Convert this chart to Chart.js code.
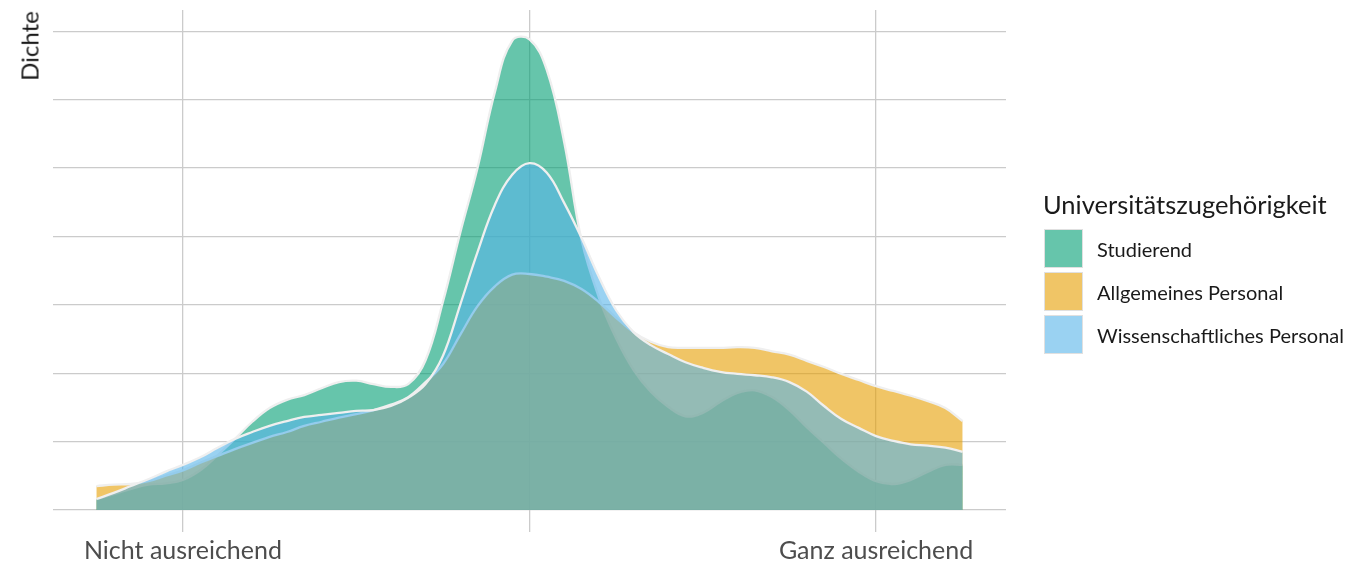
<!DOCTYPE html>
<html>
<head>
<meta charset="utf-8">
<script src="https://cdn.jsdelivr.net/npm/chart.js@4.4.1/dist/chart.umd.min.js"></script>
<style>
  html, body { margin: 0; padding: 0; background: #ffffff; }
  #wrap { position: relative; width: 1347px; height: 564px; font-family: Lato, "Open Sans", sans-serif; }
  #chart { position: absolute; left: 0; top: 0; }
  #ytitle { position: absolute; left: 29px; top: 46px; transform: translate(-50%, -50%) rotate(-90deg); font-size: 24px; color: #1a1a1a; white-space: nowrap; }
  #legend { position: absolute; left: 1043px; top: 185px; color: #1a1a1a; }
  #legend .title { font-size: 25.5px; line-height: 38px; height: 42px; white-space: nowrap; }
  #legend .item { display: flex; align-items: center; height: 43px; }
  #legend .key { width: 37px; height: 37px; border: 1.5px solid #e0e0e0; margin-left: 1px; margin-right: 14px; box-sizing: content-box; }
  #legend .lab { font-size: 20px; white-space: nowrap; }
</style>
</head>
<body>
<div id="wrap">
  <canvas id="chart" width="1347" height="564"></canvas>
  <div id="ytitle">Dichte</div>
  <div id="legend"></div>
</div>
<script>
// ---- data ----
const xValues = [0.5,0.6,0.7,0.8,0.9,1.0,1.1,1.2,1.3,1.4,1.5,1.6,1.7,1.8,1.9,2.0,2.1,2.2,2.3,2.4,2.5,2.6,2.7,2.8,2.9,3.0,3.1,3.2,3.3,3.4,3.5,3.6,3.7,3.8,3.9,4.0,4.1,4.2,4.3,4.4,4.5,4.6,4.7,4.8,4.9,5.0,5.1,5.2,5.3,5.4,5.5];
const studierend = [0.016,0.023,0.031,0.037,0.039,0.044,0.058,0.080,0.104,0.129,0.149,0.161,0.168,0.178,0.187,0.189,0.184,0.180,0.184,0.219,0.304,0.405,0.500,0.611,0.686,0.688,0.643,0.538,0.395,0.311,0.251,0.205,0.173,0.151,0.137,0.142,0.158,0.171,0.175,0.165,0.146,0.121,0.098,0.075,0.056,0.042,0.038,0.044,0.056,0.066,0.066];
const allgemein = [0.035,0.037,0.038,0.042,0.050,0.058,0.069,0.079,0.089,0.098,0.107,0.114,0.123,0.129,0.135,0.140,0.146,0.154,0.165,0.187,0.213,0.256,0.298,0.327,0.344,0.345,0.341,0.335,0.323,0.304,0.281,0.260,0.246,0.238,0.237,0.237,0.237,0.238,0.237,0.232,0.227,0.218,0.209,0.199,0.190,0.181,0.174,0.167,0.159,0.149,0.130];
const wissenschaft = [0.016,0.025,0.035,0.045,0.056,0.066,0.077,0.091,0.104,0.114,0.123,0.130,0.136,0.139,0.142,0.145,0.146,0.152,0.164,0.184,0.225,0.300,0.377,0.446,0.490,0.507,0.493,0.449,0.398,0.341,0.292,0.260,0.241,0.228,0.216,0.208,0.202,0.199,0.197,0.194,0.187,0.173,0.152,0.133,0.120,0.108,0.101,0.096,0.094,0.091,0.085];
const seriesNames = ["Studierend", "Allgemeines Personal", "Wissenschaftliches Personal"];
const xTickValues = [1, 3, 5];
const xTickLabels = ["Nicht ausreichend", "", "Ganz ausreichend"];
const yTickValues = [0, 0.1, 0.2, 0.3, 0.4, 0.5, 0.6, 0.7];
const legendTitle = "Universitätszugehörigkeit";
const yTitle = "Dichte";

// ---- styles ----
const fills = ["rgba(0,158,115,0.6)", "rgba(230,159,0,0.6)", "rgba(86,180,233,0.6)"];
const drawOrder = [2, 1, 0]; // Studierend bottom, Wissenschaftliches on top

const seriesValues = [studierend, allgemein, wissenschaft];
const datasets = seriesValues.map((vals, i) => ({
  label: seriesNames[i],
  data: xValues.map((x, j) => ({ x: x, y: vals[j] })),
  backgroundColor: fills[i],
  borderColor: "#efefef",
  borderWidth: 2.3,
  fill: "origin",
  pointRadius: 0,
  pointHoverRadius: 0,
  tension: 0.4,
  order: drawOrder[i]
}));

document.getElementById("ytitle").textContent = yTitle;
const leg = document.getElementById("legend");
const t = document.createElement("div"); t.className = "title"; t.textContent = legendTitle; leg.appendChild(t);
seriesNames.forEach((n, i) => {
  const it = document.createElement("div"); it.className = "item";
  const k = document.createElement("div"); k.className = "key"; k.style.background = fills[i];
  const l = document.createElement("div"); l.className = "lab"; l.textContent = n;
  it.appendChild(k); it.appendChild(l); leg.appendChild(it);
});

Chart.defaults.font.family = "Lato, 'Open Sans', sans-serif";
new Chart(document.getElementById("chart"), {
  type: "line",
  data: { datasets: datasets },
  options: {
    responsive: false,
    animation: false,
    layout: { padding: { left: 0, top: 10, right: 341, bottom: 0 } },
    plugins: { legend: { display: false }, tooltip: { enabled: false } },
    scales: {
      x: {
        type: "linear",
        min: 0.25, max: 5.75,
        afterBuildTicks: (s) => { s.ticks = xTickValues.map(v => ({ value: v })); },
        afterFit: (s) => { s.height = 32; },
        ticks: {
          callback: (v) => { const i = xTickValues.indexOf(v); return i >= 0 ? xTickLabels[i] : ""; },
          color: "#4d4d4d", font: { size: 25 }, padding: 4, maxRotation: 0, autoSkip: false
        },
        grid: { color: "#cbcbcb", lineWidth: 1.3, drawTicks: false },
        border: { display: false }
      },
      y: {
        type: "linear",
        min: -0.0322, max: 0.731,
        afterBuildTicks: (s) => { s.ticks = yTickValues.map(v => ({ value: v })); },
        afterFit: (s) => { s.width = 53; },
        ticks: { display: false },
        grid: { color: "#cbcbcb", lineWidth: 1.3, drawTicks: false },
        border: { display: false }
      }
    }
  }
});
</script>
</body>
</html>
